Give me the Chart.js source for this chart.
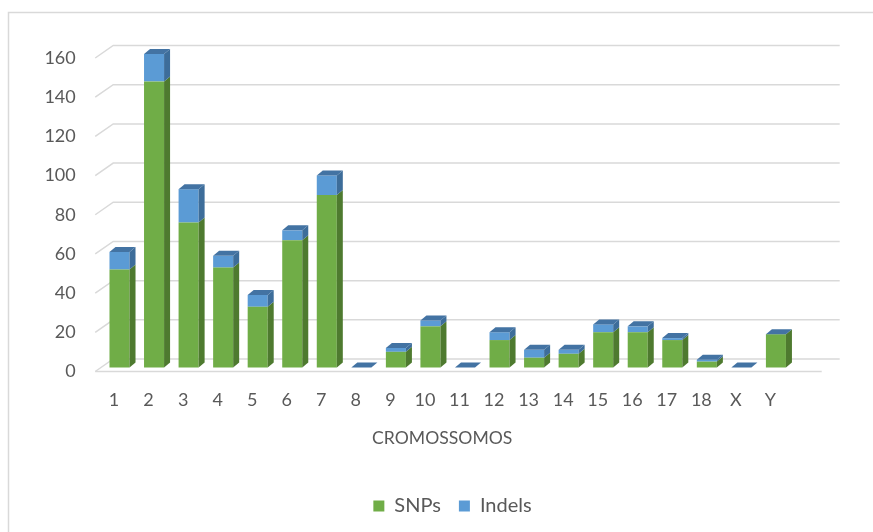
<!DOCTYPE html>
<html>
<head>
<meta charset="utf-8">
<script src="https://cdn.jsdelivr.net/npm/chart.js@4.4.1/dist/chart.umd.min.js"></script>
<style>
  html, body { margin: 0; padding: 0; background: #ffffff; }
  canvas { display: block; }
</style>
</head>
<body>
<canvas id="chart" width="873" height="532"></canvas>
<script>
// Variants found per chromosome
const chromosomes = ['1', '2', '3', '4', '5', '6', '7', '8', '9', '10', '11', '12', '13', '14', '15', '16', '17', '18', 'X', 'Y'];
const snps   = [50, 146, 74, 51, 31, 65, 88, 0, 8, 21, 0, 14, 5, 7, 18, 18, 14, 3, 0, 17];
const indels = [9, 14, 17, 6, 6, 5, 10, 0, 2, 3, 0, 4, 4, 2, 4, 3, 1, 1, 0, 0];
const yTickStep = 20;
const yMax = 160;

const TEXT = '#595959';
const GRID = '#d9d9d9';
const FONT = 'Lato, "Open Sans", sans-serif';

const GREEN = '#70ad47', GREEN_SIDE = '#4e7a2f';
const BLUE = '#5b9bd5', BLUE_SIDE = '#3d6d9a', BLUE_TOP = '#4373a3';

// pseudo-3D geometry
const wallDepth = { dx: 18, dy: 12.5 };
const barDepth = { dx: 6, dy: 5 };
const barShift = { x: 5.5, y: -4 };

function fillPoly(ctx, pts, color) {
  ctx.beginPath();
  ctx.moveTo(pts[0][0], pts[0][1]);
  for (let k = 1; k < pts.length; k++) ctx.lineTo(pts[k][0], pts[k][1]);
  ctx.closePath();
  ctx.fillStyle = color;
  ctx.fill();
}

const cube3d = {
  id: 'cube3d',
  beforeDraw(chart) {
    const { ctx } = chart;
    ctx.save();
    ctx.strokeStyle = GRID;
    ctx.lineWidth = 1.5;
    ctx.strokeRect(8.5, 12.5, chart.width + 20, chart.height + 20);
    ctx.restore();
  },
  beforeDatasetsDraw(chart) {
    const { ctx, chartArea: a, scales: { y } } = chart;
    ctx.save();
    ctx.strokeStyle = GRID;
    ctx.lineWidth = 1.5;
    const xFront = a.left - 1.5;
    const xBack = xFront + wallDepth.dx;
    const backRight = a.right + 52;
    const frontRight = a.right + 34;
    y.ticks.forEach(t => {
      const py = y.getPixelForValue(t.value);
      ctx.beginPath();
      ctx.moveTo(xFront, py);
      ctx.lineTo(xBack, py - wallDepth.dy);
      ctx.lineTo(backRight, py - wallDepth.dy);
      ctx.stroke();
    });
    const p0 = y.getPixelForValue(0);
    ctx.beginPath();
    ctx.moveTo(xFront, p0);
    ctx.lineTo(frontRight, p0);
    ctx.stroke();
    ctx.restore();

    // bars sit slightly behind the front edge of the floor
    ctx.save();
    ctx.translate(barShift.x, barShift.y);
  },
  afterDatasetsDraw(chart) {
    const { ctx } = chart;
    const m0 = chart.getDatasetMeta(0);
    const m1 = chart.getDatasetMeta(1);
    const { dx, dy } = barDepth;
    m0.data.forEach((b0, i) => {
      const b1 = m1.data[i];
      [[b0, GREEN_SIDE], [b1, BLUE_SIDE]].forEach(([b, col]) => {
        const p = b.getProps(['x', 'y', 'base', 'width'], true);
        if (Math.abs(p.base - p.y) < 0.5) return;
        const r = p.x + p.width / 2;
        fillPoly(ctx, [[r, p.y], [r + dx, p.y - dy], [r + dx, p.base - dy], [r, p.base]], col);
      });
      const t = b1.getProps(['x', 'y', 'width'], true);
      const l = t.x - t.width / 2, r = t.x + t.width / 2;
      fillPoly(ctx, [[l, t.y], [l + dx, t.y - dy], [r + dx, t.y - dy], [r, t.y]], BLUE_TOP);
    });
    ctx.restore();
  }
};

new Chart(document.getElementById('chart'), {
  type: 'bar',
  data: {
    labels: chromosomes,
    datasets: [
      { label: 'SNPs', data: snps, backgroundColor: GREEN, borderWidth: 0, clip: false },
      { label: 'Indels', data: indels, backgroundColor: BLUE, borderWidth: 0, clip: false }
    ]
  },
  options: {
    responsive: false,
    animation: false,
    events: [],
    layout: { padding: { left: 32, right: 0, top: 58, bottom: 6 } },
    datasets: { bar: { categoryPercentage: 1, barPercentage: 0.58 } },
    scales: {
      x: {
        stacked: true,
        grid: { display: false, drawTicks: false },
        border: { display: false },
        ticks: { color: TEXT, font: { family: FONT, size: 18 }, padding: 18, maxRotation: 0, autoSkip: false },
        title: { display: true, text: 'CROMOSSOMOS', color: TEXT, font: { family: FONT, size: 17.6 }, padding: { top: 0, bottom: 29.4 } },
        afterFit(s) { s.height = 106.5; }
      },
      y: {
        stacked: true,
        min: 0,
        max: yMax,
        grid: { display: false, drawTicks: false },
        border: { display: false },
        ticks: { stepSize: yTickStep, color: TEXT, font: { family: FONT, size: 18 }, padding: 21 },
        afterFit(s) { s.width = 64.73; }
      },
      // empty margin on the right side of the plot, beyond the floor
      margin: {
        position: 'right',
        grid: { display: false, drawTicks: false },
        border: { display: false },
        ticks: { display: false },
        afterFit(s) { s.width = 85.3; }
      }
    },
    plugins: {
      legend: {
        position: 'bottom',
        labels: { color: TEXT, font: { family: FONT, size: 20 }, boxWidth: 11, boxHeight: 11, padding: 18 }
      },
      tooltip: { enabled: false }
    }
  },
  plugins: [cube3d]
});
</script>
</body>
</html>
